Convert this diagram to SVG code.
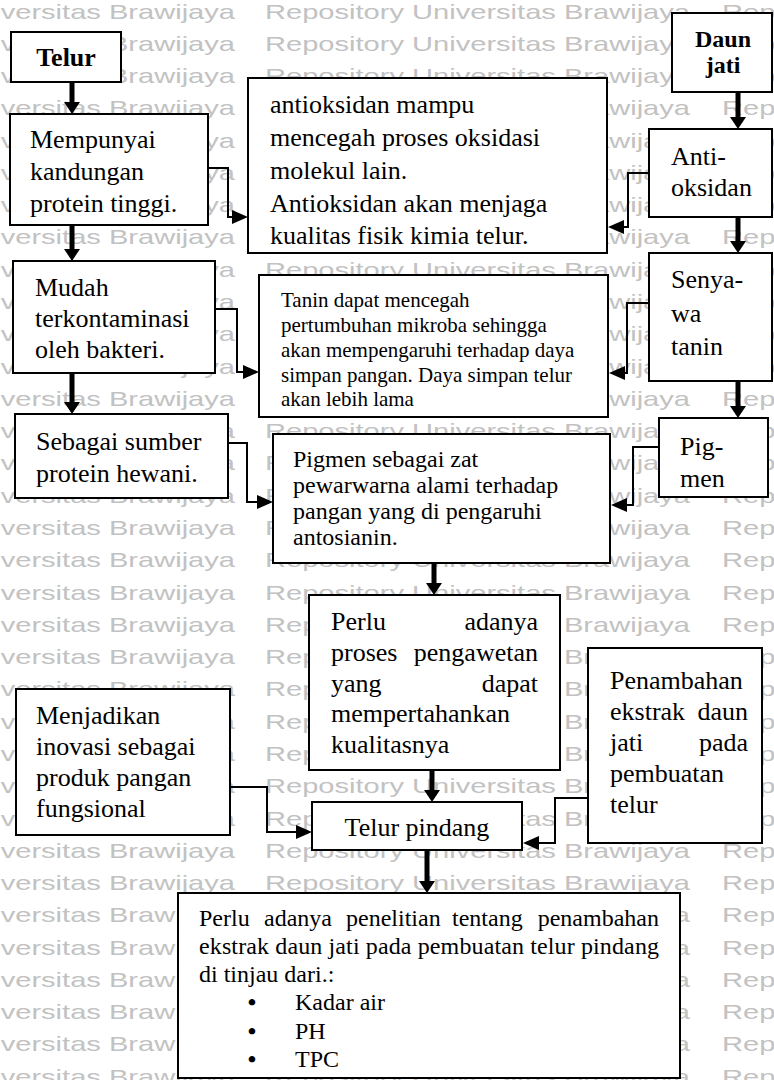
<svg xmlns="http://www.w3.org/2000/svg" xmlns:xlink="http://www.w3.org/1999/xlink" width="774" height="1080" viewBox="0 0 774 1080">
<style>
.wm{font-family:"Liberation Sans",Arial,sans-serif;font-size:21px;fill:#c2c2c2}
.box{fill:#fff;stroke:#000;stroke-width:2}
.t{font-family:"Liberation Serif","Times New Roman",serif;font-size:26px;fill:#000}
.t24{font-family:"Liberation Serif","Times New Roman",serif;font-size:24px;fill:#000}
.t21{font-family:"Liberation Serif","Times New Roman",serif;font-size:21px;fill:#000}
.b{font-weight:bold}
.bul{font-family:"Liberation Serif","Times New Roman",serif;font-size:24px;font-weight:bold;fill:#000}
.thick{stroke:#000;stroke-width:5;fill:none;marker-end:url(#ah)}
.thin{stroke:#000;stroke-width:2;fill:none;marker-end:url(#as)}
</style>
<defs>
<marker id="ah" markerUnits="userSpaceOnUse" markerWidth="12" markerHeight="16" refX="0" refY="8" orient="auto"><path d="M0,0 L12,8 L0,16 z" fill="#000"/></marker>
<marker id="as" markerUnits="userSpaceOnUse" markerWidth="16" markerHeight="14" refX="0" refY="7" orient="auto"><path d="M0,0 L16,7 L0,14 z" fill="#000"/></marker>
<g id="wmrow">
<text class="wm" x="-190" y="18.5" textLength="425" lengthAdjust="spacingAndGlyphs">Repository Universitas Brawijaya</text>
<text class="wm" x="265" y="18.5" textLength="425" lengthAdjust="spacingAndGlyphs">Repository Universitas Brawijaya</text>
<text class="wm" x="722" y="18.5" textLength="425" lengthAdjust="spacingAndGlyphs">Repository Universitas Brawijaya</text>
</g>
</defs>
<rect x="0" y="0" width="774" height="1080" fill="#fff"/>
<g id="watermark">
<use xlink:href="#wmrow" y="0"/><use xlink:href="#wmrow" y="32.28"/><use xlink:href="#wmrow" y="64.56"/><use xlink:href="#wmrow" y="96.84"/>
<use xlink:href="#wmrow" y="129.12"/><use xlink:href="#wmrow" y="161.4"/><use xlink:href="#wmrow" y="193.68"/><use xlink:href="#wmrow" y="225.96"/>
<use xlink:href="#wmrow" y="258.24"/><use xlink:href="#wmrow" y="290.52"/><use xlink:href="#wmrow" y="322.8"/><use xlink:href="#wmrow" y="355.08"/>
<use xlink:href="#wmrow" y="387.36"/><use xlink:href="#wmrow" y="419.64"/><use xlink:href="#wmrow" y="451.92"/><use xlink:href="#wmrow" y="484.2"/>
<use xlink:href="#wmrow" y="516.48"/><use xlink:href="#wmrow" y="548.76"/><use xlink:href="#wmrow" y="581.04"/><use xlink:href="#wmrow" y="613.32"/>
<use xlink:href="#wmrow" y="645.6"/><use xlink:href="#wmrow" y="677.88"/><use xlink:href="#wmrow" y="710.16"/><use xlink:href="#wmrow" y="742.44"/>
<use xlink:href="#wmrow" y="774.72"/><use xlink:href="#wmrow" y="807"/><use xlink:href="#wmrow" y="839.28"/><use xlink:href="#wmrow" y="871.56"/>
<use xlink:href="#wmrow" y="903.84"/><use xlink:href="#wmrow" y="936.12"/><use xlink:href="#wmrow" y="968.4"/><use xlink:href="#wmrow" y="1000.68"/>
<use xlink:href="#wmrow" y="1032.96"/><use xlink:href="#wmrow" y="1065.24"/>
</g>
<g id="connectors">
<line class="thick" x1="72" y1="82" x2="72" y2="102"/>
<path class="thin" d="M208,168 H228 V217 H232"/>
<line class="thick" x1="72" y1="225" x2="72" y2="249"/>
<line class="thick" x1="72" y1="373" x2="72" y2="402"/>
<path class="thin" d="M215,309 H237 V372 H243"/>
<path class="thin" d="M228,443 H247 V502 H257"/>
<line class="thick" x1="738" y1="92" x2="738" y2="117"/>
<path class="thin" d="M649,173 H628 V227 H624"/>
<line class="thick" x1="738" y1="217" x2="738" y2="241"/>
<path class="thin" d="M649,303 H627 V373 H625"/>
<line class="thick" x1="738" y1="381" x2="738" y2="406"/>
<path class="thin" d="M659,447 H633 V505 H627"/>
<line class="thick" x1="434" y1="563" x2="434" y2="583"/>
<line class="thick" x1="432" y1="770" x2="432" y2="790"/>
<path class="thin" d="M230,787 H267 V832 H296"/>
<path class="thin" d="M588,798 H555 V843 H539"/>
<line class="thick" x1="427" y1="850" x2="427" y2="881"/>
</g>
<g id="n-telur"><rect class="box" x="11" y="32" width="110" height="50"/><text class="t b" x="66" y="66" text-anchor="middle">Telur</text></g>
<g id="n-mempunyai"><rect class="box" x="10" y="114" width="198" height="111"/>
<text class="t" x="30" y="148">Mempunyai</text><text class="t" x="30" y="180">kandungan</text><text class="t" x="30" y="212">protein tinggi.</text></g>
<g id="n-antioksidan-desc"><rect class="box" x="248" y="78" width="359" height="175"/>
<text class="t" x="270" y="113">antioksidan mampu</text><text class="t" x="270" y="146">mencegah proses oksidasi</text><text class="t" x="270" y="179">molekul lain.</text><text class="t" x="270" y="212">Antioksidan akan menjaga</text><text class="t" x="270" y="244">kualitas fisik kimia telur.</text></g>
<g id="n-daunjati"><rect class="box" x="672" y="13" width="100" height="79"/>
<text class="t24 b" x="723" y="47" text-anchor="middle">Daun</text><text class="t24 b" x="723" y="73" text-anchor="middle">jati</text></g>
<g id="n-antioksidan"><rect class="box" x="649" y="129" width="123" height="88"/>
<text class="t" x="671" y="165">Anti-</text><text class="t" x="671" y="196">oksidan</text></g>
<g id="n-senyawa"><rect class="box" x="649" y="253" width="123" height="128"/>
<text class="t" x="671" y="288">Senya-</text><text class="t" x="671" y="322">wa</text><text class="t" x="671" y="355">tanin</text></g>
<g id="n-tanin-desc"><rect class="box" x="259" y="275" width="349" height="142"/>
<text class="t21" x="281" y="307">Tanin dapat mencegah</text><text class="t21" x="281" y="332">pertumbuhan mikroba sehingga</text><text class="t21" x="281" y="357">akan mempengaruhi terhadap daya</text><text class="t21" x="281" y="382">simpan pangan. Daya simpan telur</text><text class="t21" x="281" y="406">akan lebih lama</text></g>
<g id="n-mudah"><rect class="box" x="13" y="261" width="202" height="112"/>
<text class="t" x="35" y="296">Mudah</text><text class="t" x="35" y="327">terkontaminasi</text><text class="t" x="35" y="358">oleh bakteri.</text></g>
<g id="n-sebagai"><rect class="box" x="15" y="414" width="213" height="84"/>
<text class="t" x="36" y="450">Sebagai sumber</text><text class="t" x="36" y="482">protein hewani.</text></g>
<g id="n-pigmen-desc"><rect class="box" x="273" y="434" width="337" height="129"/>
<text class="t24" x="293" y="467">Pigmen sebagai zat</text><text class="t24" x="293" y="493">pewarwarna alami terhadap</text><text class="t24" x="293" y="519">pangan yang di pengaruhi</text><text class="t24" x="293" y="545">antosianin.</text></g>
<g id="n-pigmen"><rect class="box" x="659" y="418" width="109" height="79"/>
<text class="t" x="680" y="455">Pig-</text><text class="t" x="680" y="487">men</text></g>
<g id="n-perlu"><rect class="box" x="309" y="595" width="251" height="175"/>
<text class="t" x="331" y="630">Perlu</text><text class="t" x="538" y="630" text-anchor="end">adanya</text>
<text class="t" x="331" y="661">proses</text><text class="t" x="538" y="661" text-anchor="end">pengawetan</text>
<text class="t" x="331" y="692">yang</text><text class="t" x="538" y="692" text-anchor="end">dapat</text>
<text class="t" x="331" y="722">mempertahankan</text><text class="t" x="331" y="753">kualitasnya</text></g>
<g id="n-menjadikan"><rect class="box" x="16" y="689" width="214" height="146"/>
<text class="t" x="36" y="724">Menjadikan</text><text class="t" x="36" y="755">inovasi sebagai</text><text class="t" x="36" y="786">produk pangan</text><text class="t" x="36" y="817">fungsional</text></g>
<g id="n-penambahan"><rect class="box" x="588" y="648" width="174" height="195"/>
<text class="t" x="610" y="689">Penambahan</text>
<text class="t" x="610" y="720">ekstrak</text><text class="t" x="748" y="720" text-anchor="end">daun</text>
<text class="t" x="610" y="751">jati</text><text class="t" x="748" y="751" text-anchor="end">pada</text>
<text class="t" x="610" y="782">pembuatan</text><text class="t" x="610" y="813">telur</text></g>
<g id="n-telurpindang"><rect class="box" x="312" y="802" width="210" height="48"/>
<text class="t" x="417" y="836" text-anchor="middle">Telur pindang</text></g>
<g id="n-penelitian"><rect class="box" x="178" y="893" width="502" height="185"/>
<text class="t24" x="199" y="926">Perlu</text><text class="t24" x="264" y="926">adanya</text><text class="t24" x="346" y="926">penelitian</text><text class="t24" x="452" y="926">tentang</text><text class="t24" x="659" y="926" text-anchor="end">penambahan</text>
<text class="t24" x="199" y="954" textLength="460" lengthAdjust="spacing">ekstrak daun jati pada pembuatan telur pindang</text>
<text class="t24" x="199" y="982">di tinjau dari.:</text>
<text class="bul" x="252" y="1010" text-anchor="middle">•</text><text class="t24" x="295" y="1010">Kadar air</text>
<text class="bul" x="252" y="1039" text-anchor="middle">•</text><text class="t24" x="295" y="1039">PH</text>
<text class="bul" x="252" y="1067" text-anchor="middle">•</text><text class="t24" x="295" y="1067">TPC</text></g>
</svg>
